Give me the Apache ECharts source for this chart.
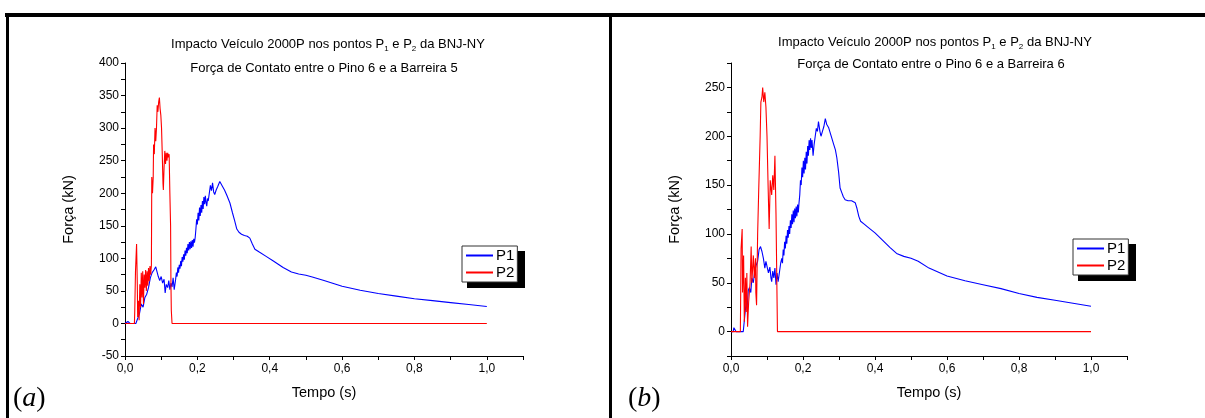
<!DOCTYPE html>
<html><head><meta charset="utf-8">
<script src="https://cdn.jsdelivr.net/npm/echarts@6/dist/echarts.min.js"></script>
<style>html,body{margin:0;padding:0;background:#fff}#c{width:1205px;height:418px}</style>
</head><body><div id="c"></div><script>
const seriesNames = ['P1', 'P2'];
const titleLine1 = 'Impacto Veículo 2000P nos pontos P{s|1} e P{s|2} da BNJ-NY';
const titleA2 = 'Força de Contato entre o Pino 6 e a Barreira 5';
const titleB2 = 'Força de Contato entre o Pino 6 e a Barreira 6';
const xName = 'Tempo (s)';
const yName = 'Força (kN)';
const panelLabels = ['a', 'b'];

// Panel (a): [tempo, força]
const leftP1 = [[0,0],[0.005,0],[0.008,3],[0.012,3],[0.014,0],[0.03,0],[0.035,2],[0.04,15],[0.045,30],[0.05,25],[0.055,40],[0.06,45],[0.065,55],[0.07,70],[0.075,78],[0.08,82],[0.085,87],[0.088,84],[0.092,72],[0.096,66],[0.1,72],[0.104,62],[0.108,68],[0.111,47],[0.114,60],[0.118,55],[0.121,66],[0.124,52],[0.127,62],[0.13,56],[0.133,70],[0.136,52],[0.14,68],[0.142,78],[0.144,72],[0.146,86],[0.148,78],[0.15,90],[0.152,84],[0.154,96],[0.156,88],[0.158,102],[0.16,95],[0.162,106],[0.164,98],[0.166,112],[0.168,104],[0.17,116],[0.172,108],[0.174,122],[0.176,112],[0.178,125],[0.18,114],[0.182,126],[0.184,116],[0.186,128],[0.188,118],[0.19,130],[0.192,124],[0.194,132],[0.196,145],[0.198,160],[0.2,152],[0.202,170],[0.204,158],[0.206,178],[0.208,165],[0.21,182],[0.212,170],[0.214,188],[0.216,176],[0.218,194],[0.22,183],[0.222,196],[0.224,186],[0.226,180],[0.228,192],[0.23,188],[0.233,200],[0.236,212],[0.239,204],[0.242,216],[0.245,202],[0.248,198],[0.252,205],[0.256,210],[0.262,218],[0.268,212],[0.275,205],[0.282,196],[0.29,185],[0.297,170],[0.303,158],[0.309,145],[0.315,140],[0.322,137],[0.33,135],[0.338,134],[0.345,131],[0.352,122],[0.359,114],[0.37,110],[0.39,103],[0.41,96],[0.437,86],[0.46,79],[0.48,76],[0.5,74],[0.52,71],[0.55,66],[0.6,57],[0.65,51],[0.7,46],[0.75,42],[0.8,38],[0.85,35],[0.9,32],[0.95,29],[1.0,26]];
const leftP2 = [[0,0],[0.026,0],[0.027,20],[0.029,80],[0.031,78],[0.032,122],[0.034,60],[0.035,10],[0.037,35],[0.039,5],[0.041,60],[0.043,25],[0.045,78],[0.047,40],[0.049,80],[0.051,30],[0.053,75],[0.055,55],[0.057,82],[0.059,50],[0.061,80],[0.063,58],[0.065,85],[0.067,65],[0.069,88],[0.071,75],[0.073,90],[0.074,225],[0.076,200],[0.078,225],[0.079,275],[0.081,260],[0.083,300],[0.085,280],[0.087,300],[0.089,335],[0.091,325],[0.093,340],[0.095,347],[0.097,330],[0.099,320],[0.101,300],[0.103,260],[0.105,215],[0.106,205],[0.108,240],[0.11,265],[0.112,245],[0.114,262],[0.116,250],[0.118,262],[0.12,255],[0.122,260],[0.124,200],[0.126,150],[0.127,60],[0.128,20],[0.13,0],[1.0,0]];

// Panel (b): [tempo, força]
const rightP1 = [[0,0],[0.006,0],[0.008,4],[0.012,3],[0.014,0],[0.034,0],[0.038,15],[0.042,30],[0.045,25],[0.048,42],[0.051,45],[0.055,40],[0.058,55],[0.062,50],[0.066,62],[0.07,68],[0.074,72],[0.078,84],[0.082,87],[0.086,82],[0.09,75],[0.094,65],[0.097,72],[0.1,70],[0.104,60],[0.108,66],[0.111,55],[0.113,51],[0.116,62],[0.119,55],[0.122,65],[0.125,48],[0.128,60],[0.131,51],[0.135,62],[0.138,70],[0.141,75],[0.143,70],[0.145,84],[0.147,78],[0.149,92],[0.151,85],[0.153,98],[0.155,90],[0.157,104],[0.159,96],[0.161,108],[0.163,100],[0.165,114],[0.167,106],[0.169,120],[0.171,110],[0.173,124],[0.175,112],[0.177,126],[0.179,116],[0.181,128],[0.183,118],[0.185,130],[0.187,122],[0.189,132],[0.191,140],[0.193,155],[0.195,150],[0.197,168],[0.199,158],[0.201,175],[0.203,162],[0.205,178],[0.207,166],[0.209,184],[0.211,172],[0.213,190],[0.215,180],[0.217,196],[0.219,186],[0.221,198],[0.223,188],[0.225,196],[0.228,180],[0.231,192],[0.234,200],[0.237,208],[0.24,205],[0.243,215],[0.247,205],[0.25,200],[0.254,205],[0.258,210],[0.262,218],[0.266,212],[0.271,209],[0.276,203],[0.28,198],[0.285,192],[0.29,186],[0.294,178],[0.299,163],[0.303,147],[0.308,142],[0.312,138],[0.317,135],[0.325,134],[0.335,134],[0.345,132],[0.35,126],[0.355,118],[0.36,113],[0.37,110],[0.38,107],[0.4,101],[0.42,94],[0.442,86],[0.46,80],[0.48,77],[0.5,75],[0.52,72],[0.55,65],[0.6,57],[0.65,52],[0.7,48],[0.75,44],[0.8,39],[0.85,35],[0.9,32],[0.95,29],[1.0,26]];
const rightP2 = [[0,0],[0.026,0],[0.028,85],[0.031,105],[0.032,40],[0.035,78],[0.037,10],[0.04,55],[0.042,20],[0.044,60],[0.046,5],[0.049,30],[0.053,50],[0.056,87],[0.058,50],[0.062,78],[0.065,55],[0.068,75],[0.069,40],[0.071,27],[0.074,100],[0.077,145],[0.081,200],[0.083,235],[0.086,240],[0.088,250],[0.091,235],[0.094,245],[0.097,230],[0.1,200],[0.103,150],[0.106,105],[0.109,155],[0.113,140],[0.116,160],[0.119,145],[0.122,180],[0.125,120],[0.127,60],[0.129,0],[1.0,0]];

const xFmt = v => { const k = Math.round(v * 10); return k % 2 === 0 ? (k / 10).toFixed(1).replace('.', ',') : ''; };
const yFmt = v => { const r = Math.round(v); return r % 50 === 0 ? String(r) : ''; };

const FONT = 'Liberation Sans, Arial, sans-serif';
const SERIF = 'Liberation Serif, Times New Roman, serif';
const colors = ['#0000ff', '#ff0000'];

function xAxis(gi) {
  return {
    type: 'value', gridIndex: gi, min: 0, max: 1.1, interval: 0.1,
    axisLine: { onZero: false, lineStyle: { color: '#000', width: 1 } },
    axisTick: { length: 4, lineStyle: { color: '#000' } },
    axisLabel: { formatter: xFmt, fontSize: 12, color: '#000', fontFamily: FONT, margin: 7 },
    splitLine: { show: false },
    name: xName, nameLocation: 'middle', nameGap: 29,
    nameTextStyle: { fontSize: 14.5, color: '#000', fontFamily: FONT }
  };
}
function yAxis(gi, min, max) {
  return {
    type: 'value', gridIndex: gi, min: min, max: max, interval: 25,
    axisLine: { show: true, onZero: false, lineStyle: { color: '#000', width: 1 } },
    axisTick: { show: true, length: 4, lineStyle: { color: '#000' } },
    axisLabel: { formatter: yFmt, fontSize: 12, color: '#000', fontFamily: FONT, margin: 6 },
    splitLine: { show: false },
    name: yName, nameLocation: 'middle', nameGap: 49,
    nameTextStyle: { fontSize: 14.5, color: '#000', fontFamily: FONT }
  };
}
function line(name, gi, data, color) {
  return {
    type: 'line', name: name, xAxisIndex: gi, yAxisIndex: gi, data: data,
    symbol: 'none', animation: false, lineStyle: { color: color, width: 1.1 }, itemStyle: { color: color }, z: name === 'P2' ? 3 : 2
  };
}
function legend(left, top) {
  return {
    left: left, top: top, orient: 'vertical', data: seriesNames, selectedMode: false,
    backgroundColor: '#fff', borderColor: '#333', borderWidth: 1, borderRadius: 0,
    padding: [2, 3, 2, 4], itemGap: 2, itemWidth: 27, itemHeight: 2, icon: 'rect',
    textStyle: { fontSize: 15, color: '#000', fontFamily: FONT, padding: [0, 0, 0, -2] }, z: 10
  };
}
function titleText(x, y, text) {
  return {
    type: 'text', x: x, y: y, z: 20,
    style: {
      text: text, fill: '#000', font: '13px ' + FONT, align: 'center', verticalAlign: 'middle',
      rich: { s: { fontSize: 8, fontFamily: FONT, fill: '#000', padding: [10, 0, 0, 0] } }
    }
  };
}
function panelLabel(x, y, letter) {
  return {
    type: 'text', x: x, y: y, z: 20,
    style: {
      text: '({i|' + letter + '})', fill: '#000', font: '28px ' + SERIF,
      verticalAlign: 'middle',
      rich: { i: { fontSize: 28, fontStyle: 'italic', fontFamily: SERIF, fill: '#000' } }
    }
  };
}

const chart = echarts.init(document.getElementById('c'), null, { renderer: 'canvas' });
chart.setOption({
  animation: false,
  backgroundColor: '#fff',
  grid: [
    { left: 125, top: 63, width: 398, height: 293 },
    { left: 731, top: 63, width: 396, height: 293 }
  ],
  xAxis: [xAxis(0), xAxis(1)],
  yAxis: [yAxis(0, -50, 400), yAxis(1, -25, 275)],
  legend: [legend(462, 246), legend(1073, 239)],
  series: [
    line(seriesNames[0], 0, leftP1, colors[0]),
    line(seriesNames[1], 0, leftP2, colors[1]),
    line(seriesNames[0], 1, rightP1, colors[0]),
    line(seriesNames[1], 1, rightP2, colors[1])
  ],
  graphic: [
    { type: 'rect', shape: { x: 5, y: 13, width: 1200, height: 4 }, style: { fill: '#000' }, z: 30 },
    { type: 'rect', shape: { x: 6, y: 13, width: 3, height: 405 }, style: { fill: '#000' }, z: 30 },
    { type: 'rect', shape: { x: 609, y: 13, width: 3, height: 405 }, style: { fill: '#000' }, z: 30 },
    { type: 'rect', shape: { x: 467, y: 251, width: 58, height: 37 }, style: { fill: '#000' }, z: 1 },
    { type: 'rect', shape: { x: 1078, y: 244, width: 58, height: 37 }, style: { fill: '#000' }, z: 1 },
    titleText(328, 44, titleLine1),
    titleText(324, 68, titleA2),
    titleText(935, 42, titleLine1),
    titleText(931, 64, titleB2),
    panelLabel(13, 399, panelLabels[0]),
    panelLabel(628, 399, panelLabels[1])
  ]
});
</script></body></html>
